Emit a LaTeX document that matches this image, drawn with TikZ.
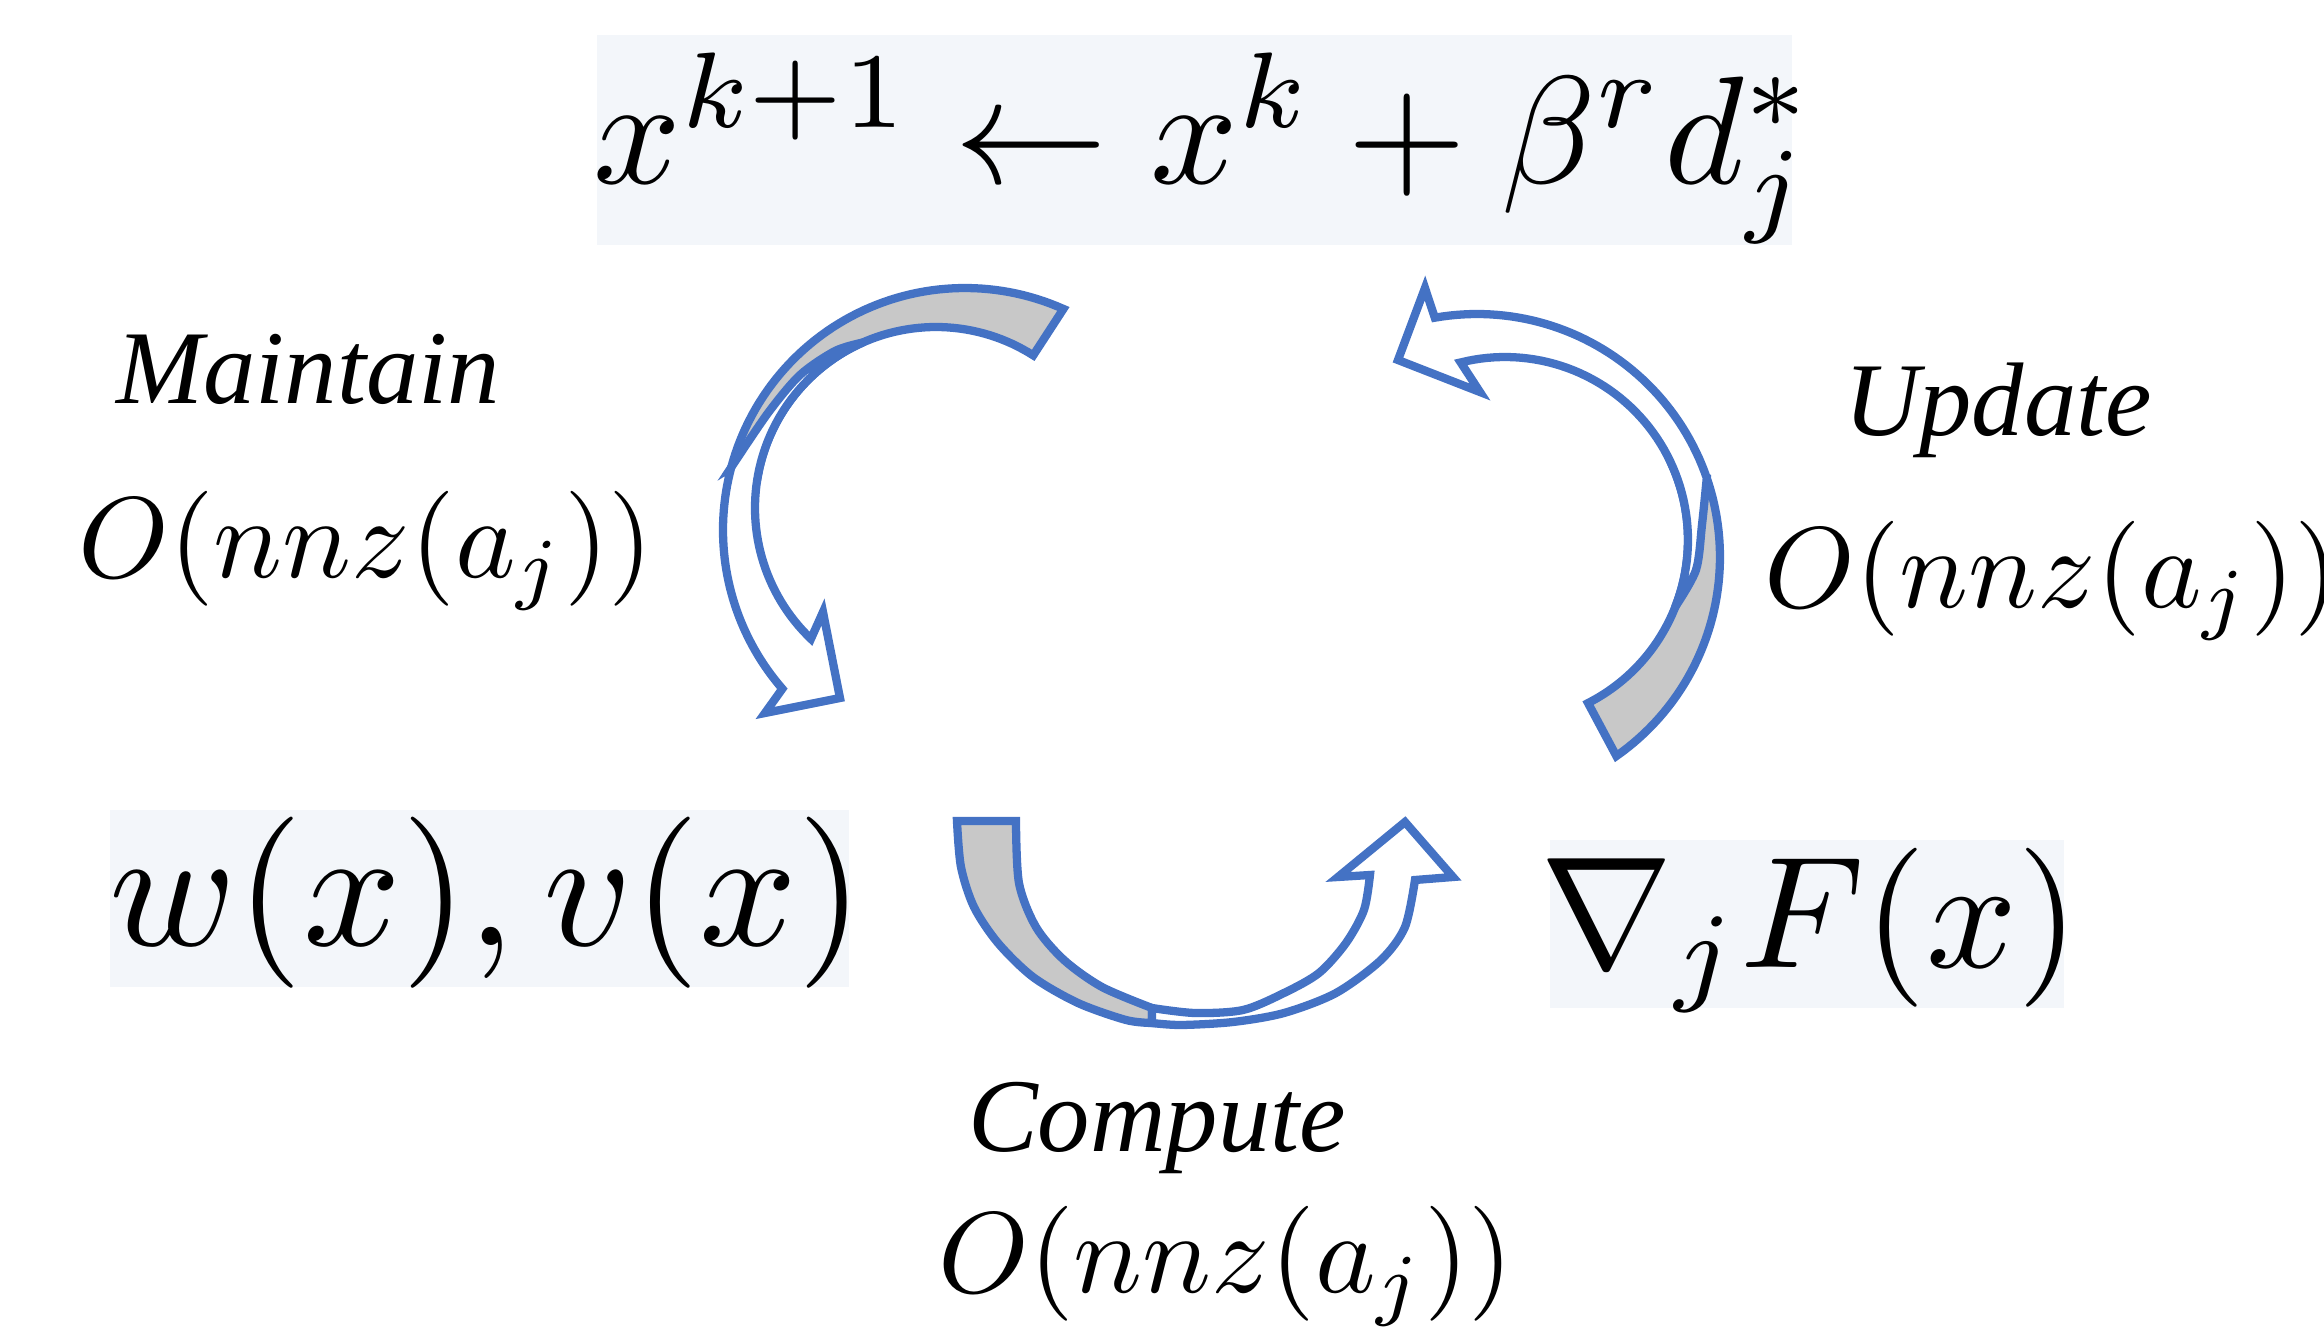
\documentclass[tikz,border=0pt]{standalone}
\usepackage{fontspec}
\usepackage{amsmath}
\usepackage{graphicx}
\newfontfamily\labelfont{Liberation Serif}
\usetikzlibrary{fit}
\definecolor{arrowblue}{RGB}{68,114,196}
\definecolor{arrowgray}{RGB}{200,200,200}
\definecolor{boxbg}{RGB}{243,246,250}
\tikzset{
  arrowline/.style={draw=arrowblue, line width=0.72pt, line join=miter},
  backpart/.style={arrowline, fill=arrowgray},
  frontpart/.style={arrowline, fill=white},
  formulabox/.style={fill=boxbg, draw=none, inner sep=0pt, outer sep=0pt},
  mathtext/.style={inner sep=0pt, outer sep=0pt, anchor=base, text=black, font=\fontsize{10}{12}\selectfont},
  steplabel/.style={inner sep=0pt, outer sep=0pt, anchor=base, font=\labelfont\itshape\fontsize{9.1}{11}\selectfont},
  costlabel/.style={inner sep=0pt, outer sep=0pt, anchor=base, font=\fontsize{9.8}{12}\selectfont},
}
\begin{document}
\begin{tikzpicture}[x=0.087pt, y=-0.087pt]
\useasboundingbox (0,0) rectangle (2324,1335);

% formula boxes
\coordinate (tb1) at (597,35);  \coordinate (tb2) at (1792,245);
\coordinate (lb1) at (110,810); \coordinate (lb2) at (849,987);
\coordinate (rb1) at (1550,840); \coordinate (rb2) at (2064,1008);
\node[formulabox, fit=(tb1)(tb2)] (topbox) {};
\node[formulabox, fit=(lb1)(lb2)] (leftbox) {};
\node[formulabox, fit=(rb1)(rb2)] (rightbox) {};

% arrow 1 (left, Maintain)
\draw[backpart] plot[domain=-66:-165, samples=60] ({965+242*cos(\x)},{530+242*sin(\x)})
  -- plot[domain=-170:-57.5, samples=60] ({936+181*cos(\x)},{508+181*sin(\x)}) -- cycle;
\draw[frontpart] plot[domain=139:195, samples=40] ({965+242*cos(\x)},{530+242*sin(\x)})
  -- plot[smooth] coordinates {(731.2,467.4) (768,413) (800,375) (835,351) (862.4,342.6)}
  -- plot[domain=-114:-226.3, samples=60] ({936+181*cos(\x)},{508+181*sin(\x)})
  -- (823,612) -- (840,698) -- (765,713) -- cycle;

% arrow 2 (right, Update)
\draw[backpart] plot[domain=55:-19, samples=60] ({1477+243*cos(\x)},{557+243*sin(\x)})
  -- plot[domain=-25:63, samples=60] ({1505+183*cos(\x)},{540+183*sin(\x)}) -- cycle;
\draw[frontpart] plot[domain=-100:-19, samples=50] ({1477+243*cos(\x)},{557+243*sin(\x)})
  -- plot[smooth] coordinates {(1706.8,477.9) (1702,525) (1696,570) (1675.5,606.5)}
  -- plot[domain=21.3:-104, samples=60] ({1505+183*cos(\x)},{540+183*sin(\x)})
  -- (1480,392) -- (1398,360) -- (1425,288) -- cycle;

% arrow 3 (bottom, Compute)
\draw[backpart] plot[smooth] coordinates {(957,821) (961,867) (974,907) (998,943) (1033,977) (1078,1003) (1126,1020) (1152,1023)}
  -- plot[smooth] coordinates {(1152,1008) (1102,987) (1064,960) (1036,927) (1019,883) (1016,821)} -- cycle;
\draw[frontpart] plot[smooth] coordinates {(1152,1023) (1181,1025) (1233,1022) (1284,1013) (1336,993) (1381,960) (1405,927) (1415,880)}
  -- (1453,877) -- (1405,822) -- (1338,877) -- (1370,875)
  -- plot[smooth] coordinates {(1370,875) (1364,910) (1346,943) (1319,973) (1284,993) (1243,1010) (1195,1013) (1152,1008)} -- cycle;

% texts
\node[mathtext] (xupdate) at (1204,183) {\scalebox{1.335}{$x^{k+1}\leftarrow x^{k}+\beta^{r}d_{j}^{*}$}};
\node[mathtext] (wv) at (487,945) {\scalebox{1.49}{$w(x),v(x)$}};
\node[mathtext] (grad) at (1810,967) {\scalebox{1.384}{$\nabla_{j}F(x)$}};
\node[steplabel] (maintain) at (308,403) {Maintain};
\node[costlabel] (costM) at (366,577) {$O(nnz(a_{j}))$};
\node[steplabel] (updlabel) at (1998,435) {Update};
\node[costlabel] (costU) at (2052,607) {$O(nnz(a_{j}))$};
\node[steplabel] (compute) at (1157,1152) {Compute};
\node[costlabel] (costC) at (1226,1293) {$O(nnz(a_{j}))$};
\end{tikzpicture}
\end{document}
